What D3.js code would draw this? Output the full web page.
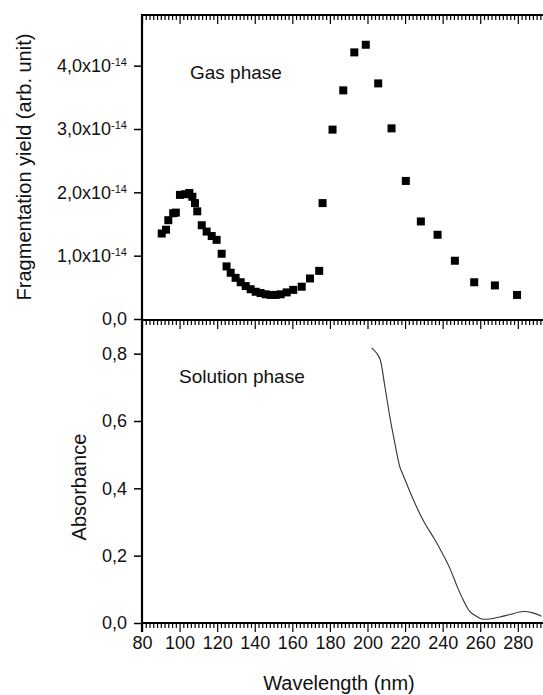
<!DOCTYPE html>
<html>
<head>
<meta charset="utf-8">
<script src="https://cdn.jsdelivr.net/npm/d3@7"></script>
<style>
  body { margin: 0; background: #fff; }
  text { font-family: Arial, "Liberation Sans", sans-serif; fill: #111; }
</style>
</head>
<body>
<svg width="543" height="695"></svg>
<script>
// gas phase fragmentation yield, in units of 1e-14
var gasWavelength = [90.5, 92.8, 94.0, 96.6, 98.0, 100.2, 102.9, 105.2, 106.8, 108.2,
  109.4, 111.8, 114.4, 117.1, 119.7, 122.4, 125.0, 127.2, 129.8, 132.5,
  135.2, 137.8, 140.5, 143.1, 145.8, 148.5, 151.1, 153.8, 157.0, 160.5,
  165.0, 169.4, 174.3, 176.1, 181.4, 187.1, 193.0, 199.1, 205.7, 212.8,
  220.4, 228.4, 237.3, 246.5, 256.8, 267.8, 279.6];
var gasYield = [1.35, 1.41, 1.56, 1.67, 1.68, 1.96, 1.97, 1.99, 1.93, 1.83,
  1.70, 1.48, 1.38, 1.31, 1.25, 1.03, 0.83, 0.73, 0.65, 0.58,
  0.52, 0.47, 0.43, 0.41, 0.39, 0.38, 0.38, 0.39, 0.42, 0.46,
  0.51, 0.64, 0.76, 1.83, 2.99, 3.61, 4.21, 4.33, 3.72, 3.01,
  2.18, 1.54, 1.33, 0.92, 0.58, 0.53, 0.38];

// solution phase absorbance
var solWavelength = [202.2, 204.8, 206.6, 209.3, 211.9, 214.6, 217.2, 219.0, 222.6, 226.1,
  230.5, 235.9, 240.3, 243.8, 247.4, 250.9, 254.5, 258.0, 260.7, 265.1,
  270.4, 275.7, 282.8, 288.1, 292.6];
var solAbsorbance = [0.817, 0.802, 0.785, 0.701, 0.612, 0.533, 0.464, 0.439, 0.390, 0.345,
  0.296, 0.247, 0.202, 0.163, 0.113, 0.069, 0.034, 0.020, 0.012, 0.012,
  0.018, 0.025, 0.034, 0.030, 0.020];

var xMajor = [80, 100, 120, 140, 160, 180, 200, 220, 240, 260, 280];
var topYTicks = [0, 1, 2, 3, 4];
var botYTicks = [0, 0.2, 0.4, 0.6, 0.8];

var svg = d3.select("svg");

var left = 142, right = 546;
var topY0 = 15, topY1 = 319;
var botY0 = 320, botY1 = 623;

var x = d3.scaleLinear().domain([80, 295]).range([left, right]);
var yTop = d3.scaleLinear().domain([0, 4.8]).range([topY1, topY0]);
var yBot = d3.scaleLinear().domain([0, 0.9]).range([botY1, botY0]);

var xMinor = d3.range(80, 296, 2).filter(function(d) { return d % 20 != 0; });
var comma = function(d) { return d3.format(".1f")(d).replace(".", ","); };

svg.append("defs").append("clipPath").attr("id", "clip")
  .append("rect").attr("x", left).attr("y", 0).attr("width", right - left).attr("height", 695);

function xTicks(yPos, withLabels) {
  var g = svg.append("g").attr("transform", "translate(0," + yPos + ")");
  g.call(d3.axisBottom(x).tickValues(xMinor).tickSize(4).tickFormat(""));
  var gm = svg.append("g").attr("transform", "translate(0," + yPos + ")");
  gm.call(d3.axisBottom(x).tickValues(xMajor).tickSize(8).tickPadding(4)
    .tickFormat(withLabels ? d3.format("d") : ""));
  [g, gm].forEach(function(s) {
    s.select(".domain").remove();
    s.selectAll("line").attr("stroke", "#000").attr("stroke-width", 1.2);
  });
  gm.selectAll("text").style("font-size", "18px").attr("fill", "#111");
}

// top panel x ticks (pointing down, inward), shared border ticks, bottom axis
xTicks(topY0 + 1, false);
xTicks(botY0 + 1, false);
xTicks(botY1 + 1, true);

// frame lines
[topY0, botY0, botY1].forEach(function(yy) {
  svg.append("line").attr("x1", left).attr("x2", 543).attr("y1", yy).attr("y2", yy)
    .attr("stroke", "#000").attr("stroke-width", 2.2);
});
svg.append("line").attr("x1", left).attr("x2", left).attr("y1", topY0 - 1).attr("y2", botY1 + 9)
  .attr("stroke", "#000").attr("stroke-width", 2.2);

// top y axis
var gyTop = svg.append("g").attr("transform", "translate(" + left + ",0)")
  .call(d3.axisLeft(yTop).tickValues(topYTicks).tickSize(8).tickPadding(7).tickFormat(comma));
gyTop.select(".domain").remove();
gyTop.selectAll("line").attr("stroke", "#000").attr("stroke-width", 1.5);
gyTop.selectAll("text").style("font-size", "18px").attr("fill", "#111")
  .each(function(d) {
    if (d == 0) return;
    var t = d3.select(this);
    t.text(comma(d) + "x10");
    t.append("tspan").text("-14").style("font-size", "11px").attr("dy", "-0.55em");
  });

// bottom y axis
var gyBot = svg.append("g").attr("transform", "translate(" + left + ",0)")
  .call(d3.axisLeft(yBot).tickValues(botYTicks).tickSize(8).tickPadding(7).tickFormat(comma));
gyBot.select(".domain").remove();
gyBot.selectAll("line").attr("stroke", "#000").attr("stroke-width", 1.5);
gyBot.selectAll("text").style("font-size", "18px").attr("fill", "#111");

// gas phase squares
var gas = gasWavelength.map(function(w, i) { return { w: w, v: gasYield[i] }; });
svg.append("g").attr("clip-path", "url(#clip)")
  .selectAll("rect").data(gas).enter().append("rect")
  .attr("x", function(d) { return x(d.w) - 4; })
  .attr("y", function(d) { return yTop(d.v) - 4; })
  .attr("width", 8).attr("height", 8)
  .attr("fill", "#000");

// solution phase line
var sol = solWavelength.map(function(w, i) { return { w: w, v: solAbsorbance[i] }; });
svg.append("path").datum(sol)
  .attr("clip-path", "url(#clip)")
  .attr("fill", "none").attr("stroke", "#333").attr("stroke-width", 1.1)
  .attr("d", d3.line()
    .x(function(d) { return x(d.w); })
    .y(function(d) { return yBot(d.v); })
    .curve(d3.curveCatmullRom));

// annotations
svg.append("text").attr("x", 190).attr("y", 79).style("font-size", "19px").text("Gas phase");
svg.append("text").attr("x", 179).attr("y", 383).style("font-size", "19px").text("Solution phase");

// axis titles
svg.append("text").attr("x", 339).attr("y", 690).attr("text-anchor", "middle")
  .style("font-size", "20px").text("Wavelength (nm)");
svg.append("text").attr("transform", "translate(31,167) rotate(-90)").attr("text-anchor", "middle")
  .style("font-size", "20px").text("Fragmentation yield (arb. unit)");
svg.append("text").attr("transform", "translate(86,487) rotate(-90)").attr("text-anchor", "middle")
  .style("font-size", "20px").text("Absorbance");
</script>
</body>
</html>
